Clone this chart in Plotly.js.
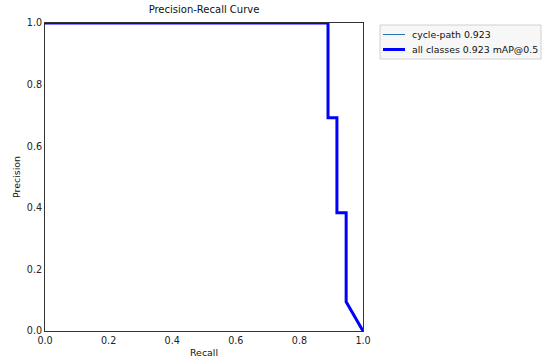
<!DOCTYPE html>
<html><head><meta charset="utf-8">
<script src="https://cdn.plot.ly/plotly-3.0.1.min.js"></script>
<style>body{margin:0;background:#fff}#c{width:542px;height:360px}</style>
</head><body><div id="c"></div>
<script>
const recall = [0, 0.890, 0.890, 0.918, 0.918, 0.947, 0.947, 1.0];
const precision = [1.0, 1.0, 0.692, 0.692, 0.384, 0.384, 0.095, 0.0];
const classNames = ['cycle-path 0.923', 'all classes 0.923 mAP@0.5'];
const xTicks = [0, 0.2, 0.4, 0.6, 0.8, 1.0];
const yTicks = [0, 0.2, 0.4, 0.6, 0.8, 1.0];
const F = 'DejaVu Sans, sans-serif';
const styles = [{color: '#1f77b4', width: 1}, {color: 'blue', width: 3}];
const traces = classNames.map((n, i) => ({x: recall, y: precision, mode: 'lines', name: n, line: styles[i]}));

// manual legend (pixel -> paper conversion for a plot area 45..363 x 23..331)
const px = v => (v - 45) / 318, py = v => (331 - v) / 308;
const shapes = [
  {type: 'rect', xref: 'paper', yref: 'paper', x0: px(380), x1: px(541), y0: py(59), y1: py(25),
   fillcolor: '#f7f7f7', line: {color: '#d0d0d0', width: 1}, layer: 'above'}
];
const annotations = [];
const rowY = [34.5, 49.5];
classNames.forEach((n, i) => {
  shapes.push({type: 'line', xref: 'paper', yref: 'paper', x0: px(383), x1: px(405), y0: py(rowY[i]), y1: py(rowY[i]),
    line: {color: styles[i].color, width: styles[i].width}, layer: 'above'});
  annotations.push({xref: 'paper', yref: 'paper', x: px(410), y: py(rowY[i]), xanchor: 'left', yanchor: 'middle',
    text: n, showarrow: false, font: {family: F, size: 9.4, color: '#111'}});
});

const axBase = {range: [0, 1], showgrid: false, zeroline: false, showline: true, mirror: true,
  linecolor: '#333', linewidth: 1, ticks: '', tickfont: {family: F, size: 9.6, color: '#222'},
  tickformat: '.1f', fixedrange: true};
const layout = {
  width: 542, height: 360, paper_bgcolor: '#fff', plot_bgcolor: '#fff',
  margin: {l: 45, r: 179, t: 23, b: 29, pad: 0},
  title: {text: 'Precision-Recall Curve', font: {family: F, size: 10, color: '#111'}, x: 0.5, xref: 'paper', xanchor: 'center', y: 0.975, yref: 'container', yanchor: 'middle'},
  xaxis: Object.assign({}, axBase, {tickvals: xTicks, title: {text: 'Recall', font: {family: F, size: 9.4, color: '#111'}, standoff: 4}}),
  yaxis: Object.assign({}, axBase, {tickvals: yTicks, title: {text: 'Precision', font: {family: F, size: 9.4, color: '#111'}, standoff: 4}}),
  showlegend: false,
  shapes: shapes, annotations: annotations
};
Plotly.newPlot('c', traces, layout, {displayModeBar: false, staticPlot: true});
</script></body></html>
